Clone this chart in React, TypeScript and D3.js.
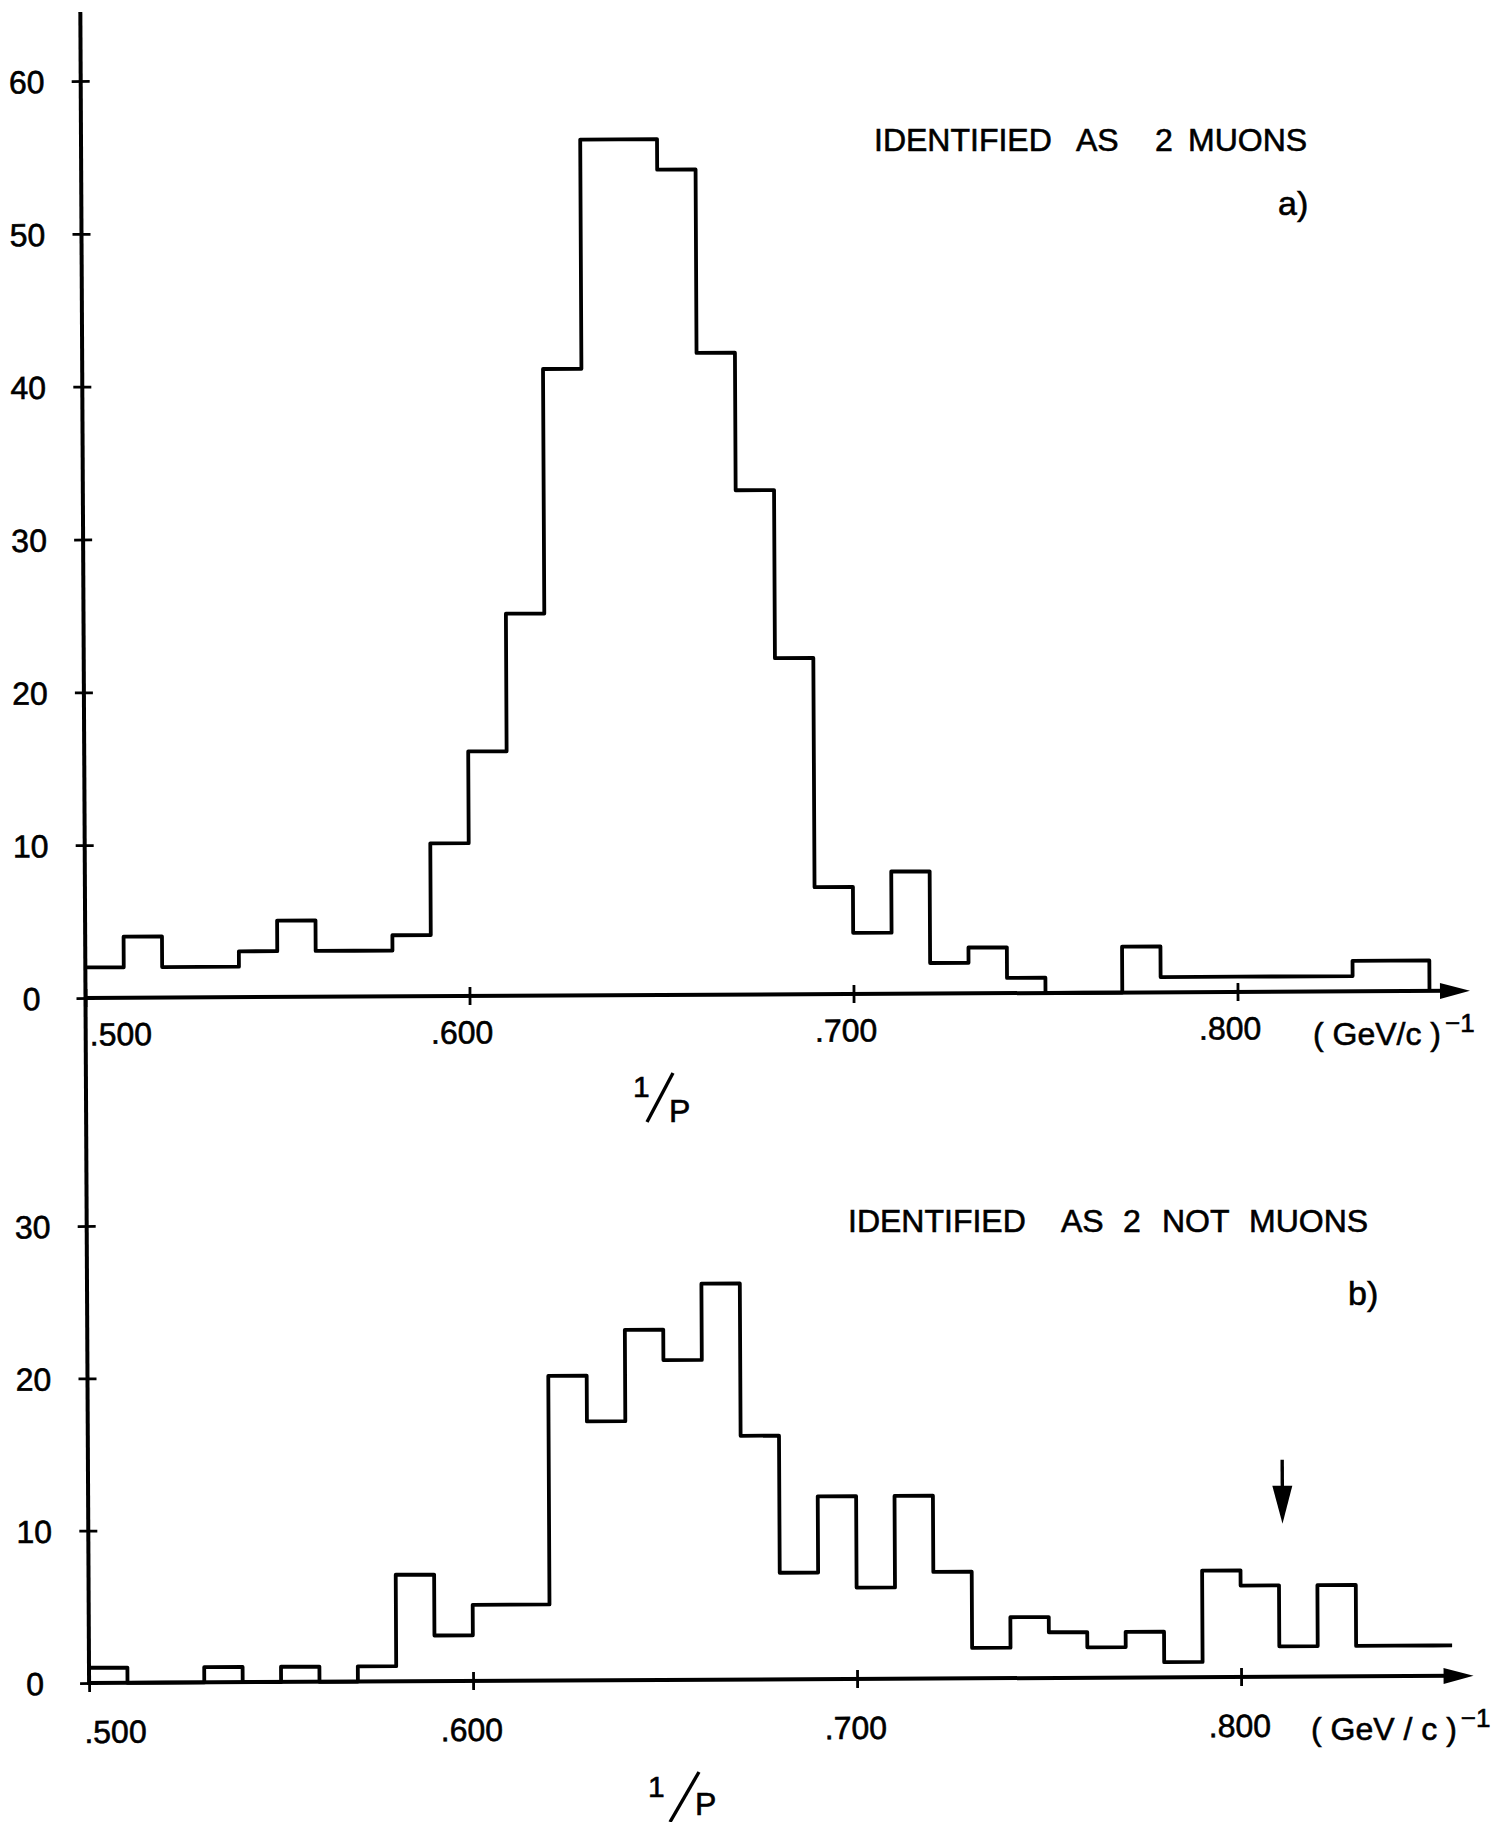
import React, { useRef, useEffect } from "react";
import * as d3 from "d3";

// 1/p histograms, bins of 0.01 starting at .500
const binStart = 0.5;
const binWidth = 0.01;
const muonCounts = [2, 4, 2, 2, 3, 5, 3, 3, 4, 10, 16, 25, 41, 56, 56, 54, 42, 33, 22, 7, 4, 8, 2, 3, 1, 0, 0, 3, 1, 1, 1, 1, 1, 2, 2];
const notMuonCounts = [1, 0, 0, 1, 0, 1, 0, 1, 7, 3, 5, 5, 20, 17, 23, 21, 26, 16, 7, 12, 6, 12, 7, 2, 4, 3, 2, 3, 1, 7, 6, 2, 6, 2, 2, 2];
const notMuonEnd = 0.855;
const arrowMark = 0.811;

const xTicks = [0.5, 0.6, 0.7, 0.8];
const xTickLabels = [".500", ".600", ".700", ".800"];
const muonYTicks = [0, 10, 20, 30, 40, 50, 60];
const notMuonYTicks = [0, 10, 20, 30];
const titleA = ["IDENTIFIED", "AS", "2", "MUONS"];
const titleB = ["IDENTIFIED", "AS", "2", "NOT", "MUONS"];

const FONT = "'Liberation Sans', Arial, sans-serif";

const App = () => {
    const svgRef = useRef<SVGSVGElement>(null);

    useEffect(() => {
        const width = 1498;
        const height = 1822;
        const axisX = 85.5;

        const svg = d3.select(svgRef.current).attr("width", width).attr("height", height);
        svg.selectAll("*").remove();

        const x = d3.scaleLinear().domain([0.5, 0.8]).range([axisX, 1237.5]);
        const yA = d3.scaleLinear().domain([0, 60]).range([998, 81]);
        const yB = d3.scaleLinear().domain([0, 30]).range([1683, 1226]);

        // the scanned page is slightly rotated
        const plot = svg.append("g").attr("transform", "rotate(-0.3, 85, 998)");

        // long vertical axis shared by both panels
        plot.append("line")
            .attr("x1", axisX).attr("x2", axisX)
            .attr("y1", 12).attr("y2", 1685)
            .attr("stroke", "#000").attr("stroke-width", 4);

        const drawPanel = (counts, y, yTicks, end, closeEnd, labelOffset, labelDx, firstDx) => {
            const g = plot.append("g");

            // y ticks
            const yAxis = g.append("g")
                .attr("transform", `translate(${axisX},0)`)
                .call(d3.axisLeft(y).tickValues(yTicks).tickSize(8).tickFormat(d3.format("d")));
            yAxis.select(".domain").remove();
            yAxis.attr("font-family", FONT).attr("font-size", 32);
            yAxis.selectAll("line").attr("x2", -9).attr("x1", 9).attr("stroke-width", 2.8);
            yAxis.selectAll("text")
                .attr("x", -54)
                .attr("dy", "0.36em")
                .attr("text-anchor", "middle")
                .attr("fill", "#000")
                .attr("stroke", "#000")
                .attr("stroke-width", 0.6);

            // x axis
            const y0 = y(0);
            const tipX = 1470;
            g.append("line")
                .attr("x1", axisX).attr("x2", tipX - 20)
                .attr("y1", y0).attr("y2", y0)
                .attr("stroke", "#000").attr("stroke-width", 4);
            g.append("path")
                .attr("d", `M${tipX},${y0} L${tipX - 30},${y0 - 8} L${tipX - 30},${y0 + 8} Z`)
                .attr("fill", "#000");

            const xAxis = g.append("g")
                .attr("transform", `translate(0,${y0})`)
                .call(d3.axisBottom(x).tickValues(xTicks).tickSize(8).tickFormat((d, i) => xTickLabels[i]));
            xAxis.select(".domain").remove();
            xAxis.attr("font-family", FONT).attr("font-size", 32);
            xAxis.selectAll("line").attr("y1", -9).attr("y2", 9).attr("stroke-width", 2.8);
            xAxis.selectAll("text")
                .attr("y", labelOffset)
                .attr("dy", "0")
                .attr("fill", "#000")
                .attr("stroke", "#000")
                .attr("stroke-width", 0.6)
                .attr("text-anchor", (d, i) => (i === 0 ? "start" : "middle"))
                .attr("dx", (d, i) => (i === 0 ? firstDx : labelDx));

            // histogram
            const pts = counts.map((c, i) => [binStart + i * binWidth, c]);
            pts.push([end, closeEnd ? 0 : counts[counts.length - 1]]);
            const line = d3.line()
                .x((d) => x(d[0]))
                .y((d) => y(d[1]))
                .curve(d3.curveStepAfter);
            g.append("path")
                .attr("d", line(pts))
                .attr("fill", "none")
                .attr("stroke", "#000")
                .attr("stroke-width", 3.8)
                .attr("stroke-linejoin", "round");

            return g;
        };

        drawPanel(muonCounts, yA, muonYTicks, 0.85, true, 47.5, -8, 3.5);
        const gB = drawPanel(notMuonCounts, yB, notMuonYTicks, notMuonEnd, false, 60, -2, -5.5);

        // arrow marker in panel b
        const ax = x(arrowMark);
        gB.append("line")
            .attr("x1", ax).attr("x2", ax)
            .attr("y1", 1466).attr("y2", 1500)
            .attr("stroke", "#000").attr("stroke-width", 3.4);
        gB.append("path")
            .attr("d", `M${ax - 10},1492 L${ax + 10},1492 L${ax},1530 Z`)
            .attr("fill", "#000");

        // annotations
        const notes = svg.append("g")
            .attr("font-family", FONT)
            .attr("fill", "#000")
            .attr("stroke", "#000")
            .attr("stroke-width", 0.6);

        const titleAX = [874, 1076, 1155, 1188];
        titleA.forEach((w, i) => {
            notes.append("text").attr("x", titleAX[i]).attr("y", 151).attr("font-size", 32).text(w);
        });
        const titleBX = [848, 1061, 1123, 1162, 1249];
        titleB.forEach((w, i) => {
            notes.append("text").attr("x", titleBX[i]).attr("y", 1231.5).attr("font-size", 32).text(w);
        });

        notes.append("text").attr("x", 1278).attr("y", 215).attr("font-size", 34).text("a)");
        notes.append("text").attr("x", 1348).attr("y", 1305).attr("font-size", 34).text("b)");

        const unit = (xPos, yPos, label, supDx) => {
            const t = notes.append("text")
                .attr("x", xPos).attr("y", yPos)
                .attr("font-size", 32)
                .attr("xml:space", "preserve");
            t.append("tspan").text(label);
            t.append("tspan").attr("dx", supDx).attr("dy", -13).attr("font-size", 26).text("\u22121");
        };
        unit(1313, 1045, "( GeV/c )", 4);
        unit(1311, 1740, "( GeV / c )", 4);

        const oneOverP = (x1, y1, sx1, sy1, sx2, sy2, px, py) => {
            notes.append("text").attr("x", x1).attr("y", y1).attr("font-size", 30).text("1");
            notes.append("line")
                .attr("x1", sx1).attr("y1", sy1).attr("x2", sx2).attr("y2", sy2)
                .attr("stroke", "#000").attr("stroke-width", 3.4);
            notes.append("text").attr("x", px).attr("y", py).attr("font-size", 32).text("P");
        };
        oneOverP(633, 1097, 647, 1122, 673, 1073, 669, 1122);
        oneOverP(648, 1797, 670, 1822, 699, 1772, 695, 1815);
    }, []);

    return (
        <div>
            <svg ref={svgRef} style={{ display: "block", position: "absolute", left: 0, top: 0, background: "#fff" }}></svg>
        </div>
    );
};

export default App;
